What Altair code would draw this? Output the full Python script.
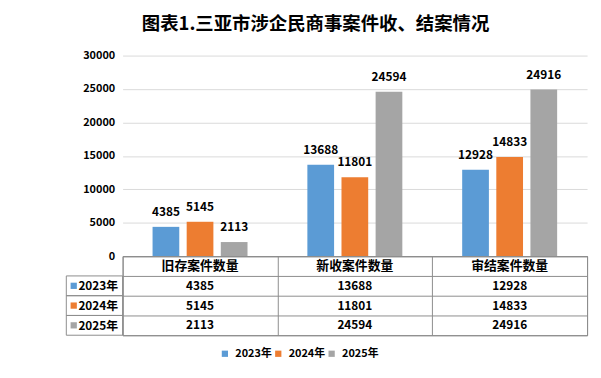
import altair as alt
import pandas as pd

categories = ["旧存案件数量", "新收案件数量", "审结案件数量"]
years = ["2023年", "2024年", "2025年"]
values_2023 = [4385, 13688, 12928]
values_2024 = [5145, 11801, 14833]
values_2025 = [2113, 24594, 24916]
colors = ["#5b9bd5", "#ed7d31", "#a5a5a5"]
y_ticks = [0, 5000, 10000, 15000, 20000, 25000, 30000]
title_text = "图表1.三亚市涉企民商事案件收、结案情况"

rows = []
for yr, vals in zip(years, [values_2023, values_2024, values_2025]):
    for c, v in zip(categories, vals):
        rows.append({"category": c, "year": yr, "row": yr, "value": v})
df = pd.DataFrame(rows)
header_df = pd.DataFrame({"category": categories, "row": ["header"] * len(categories)})
label_df = pd.DataFrame({"year": years, "row": years})

FONT = "Noto Sans CJK SC"
W = 470
LINE = "#8c8c8c"

xscale = alt.Scale(domain=categories, paddingInner=0, paddingOuter=0)
offset_scale = alt.Scale(domain=years, paddingInner=0.217, paddingOuter=0.877)
color_scale = alt.Scale(domain=years, range=colors)

legend = alt.Legend(
    title=None, orient="none", direction="horizontal", symbolType="square",
    symbolSize=40, symbolStrokeWidth=0, labelFont=FONT, labelFontWeight="bold",
    labelFontSize=11, labelColor="#000", labelOffset=5, columnPadding=1,
    legendX=98, legendY=296,
)

x_bar = alt.X("category:N", scale=xscale, sort=categories,
              axis=alt.Axis(labels=False, ticks=False, title=None, grid=False,
                            domainColor=LINE))
xoff = alt.XOffset("year:N", scale=offset_scale, sort=years)
y_bar = alt.Y("value:Q", scale=alt.Scale(domain=[0, 30000]),
              axis=alt.Axis(values=y_ticks, format="d", labelOverlap=False, title=None,
                            domain=False, ticks=False, labelPadding=8, gridColor="#d9d9d9",
                            labelFont=FONT, labelFontWeight="bold", labelFontSize=11,
                            labelColor="#000"))
bars = alt.Chart(df).mark_bar().encode(
    x=x_bar, xOffset=xoff, y=y_bar,
    color=alt.Color("year:N", scale=color_scale, legend=legend),
)
bar_labels = alt.Chart(df).mark_text(dy=-15, font=FONT, fontWeight="bold",
                                     fontSize=12, color="#000").encode(
    x=x_bar, xOffset=xoff, y=y_bar,
    text=alt.Text("value:Q", format="d"),
)
bar_chart = alt.layer(bars, bar_labels).properties(
    width=W, height=203, view=alt.ViewBackground(stroke=None))

row_domain = ["header"] + years
yscale = alt.Scale(domain=row_domain, paddingInner=0, paddingOuter=0)
table_y_axis = alt.Axis(title=None, domain=False, ticks=False, grid=True, tickBand="extent",
                        gridColor=LINE, labelExpr="datum.value == 'header' ? '' : datum.value",
                        labelFont=FONT, labelFontWeight="bold", labelFontSize=12,
                        labelColor="#000", labelPadding=5)
table_x_axis = alt.Axis(title=None, domain=False, ticks=False, labels=False, grid=True,
                        tickBand="extent", gridColor=LINE)
x_tab = alt.X("category:N", scale=xscale, sort=categories, axis=table_x_axis)
y_tab = alt.Y("row:N", scale=yscale, sort=row_domain, axis=table_y_axis)

cell_text = alt.Chart(df).mark_text(font=FONT, fontWeight="bold", fontSize=12,
                                    color="#000").encode(
    x=x_tab, y=y_tab, text=alt.Text("value:Q", format="d"))
header_text = alt.Chart(header_df).mark_text(font=FONT, fontWeight="bold", fontSize=13,
                                             color="#000").encode(
    x=x_tab, y=y_tab, text="category:N")
label_cells = alt.Chart(label_df).mark_rect(fill="transparent", stroke=LINE,
                                            strokeWidth=1).encode(
    y=y_tab, x=alt.value(-57), x2=alt.value(0))
label_squares = alt.Chart(label_df).mark_square(size=40, opacity=1).encode(
    y=y_tab, x=alt.value(-49.5),
    color=alt.Color("year:N", scale=color_scale, legend=legend))

table_chart = alt.layer(label_cells, label_squares, cell_text, header_text).properties(
    width=W, height=80, view=alt.ViewBackground(stroke=LINE))

chart = alt.vconcat(bar_chart, table_chart, spacing=0, bounds="flush").properties(
    title=alt.TitleParams(title_text, font=FONT, fontSize=18.6, fontWeight="bold",
                          color="#000", anchor="middle", offset=16, dx=-11),
    padding={"left": 58, "top": 5, "right": 5, "bottom": 5},
)

chart.save("out.html", embed_options={"renderer": "svg", "actions": False})
